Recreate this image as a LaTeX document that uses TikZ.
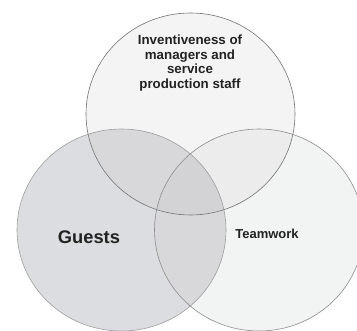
\documentclass[tikz,border=0pt]{standalone}
\usepackage{fontspec}
\setmainfont{Liberation Sans}
\definecolor{ctopfill}{HTML}{F4F4F4}
\definecolor{cleftfill}{HTML}{DCDDE0}
\definecolor{crightfill}{HTML}{F2F3F3}
\definecolor{ctl}{HTML}{D8D8DB}
\definecolor{ctr}{HTML}{ECECEC}
\definecolor{clr}{HTML}{D8D8DB}
\definecolor{call}{HTML}{D3D3D6}
\definecolor{labeltext}{HTML}{222222}
\tikzset{
  ell/.style={x radius=104.5pt, y radius=101pt},
  lbl/.style={text=labeltext, align=center, inner sep=0pt}
}
\begin{document}
\begin{tikzpicture}[x=1pt,y=-1pt]
\useasboundingbox (0,0) rectangle (357,331);
\clip (0,0) rectangle (357,331);
\fill[white] (0,0) rectangle (357,331);
\coordinate (ctop) at (190.5,114);
\coordinate (cleft) at (121.5,230);
\coordinate (cright) at (259,230);
% base fills
\fill[ctopfill] (ctop) ellipse [ell];
\fill[cleftfill] (cleft) ellipse [ell];
\fill[crightfill] (cright) ellipse [ell];
% pairwise overlaps
\begin{scope}
  \clip (ctop) ellipse [ell];
  \fill[ctl] (cleft) ellipse [ell];
  \fill[ctr] (cright) ellipse [ell];
\end{scope}
\begin{scope}
  \clip (cleft) ellipse [ell];
  \fill[clr] (cright) ellipse [ell];
  \clip (cright) ellipse [ell];
  \fill[call] (ctop) ellipse [ell];
\end{scope}
% outlines
\draw[line width=0.6pt, black!55] (ctop) ellipse [ell];
\draw[line width=0.6pt, black!38] (cleft) ellipse [ell];
\draw[line width=0.6pt, black!45] (cright) ellipse [ell];
% labels
\node[lbl, font=\fontsize{13.3}{14.6}\selectfont\bfseries] (inv) at (190,63) {Inventiveness of\\managers and\\service\\production staff};
\node[lbl, font=\fontsize{18.3}{20}\selectfont\bfseries] (guests) at (89,237) {Guests};
\node[lbl, font=\fontsize{13}{15}\selectfont\bfseries] (team) at (267,234) {Teamwork};
\end{tikzpicture}
\end{document}
